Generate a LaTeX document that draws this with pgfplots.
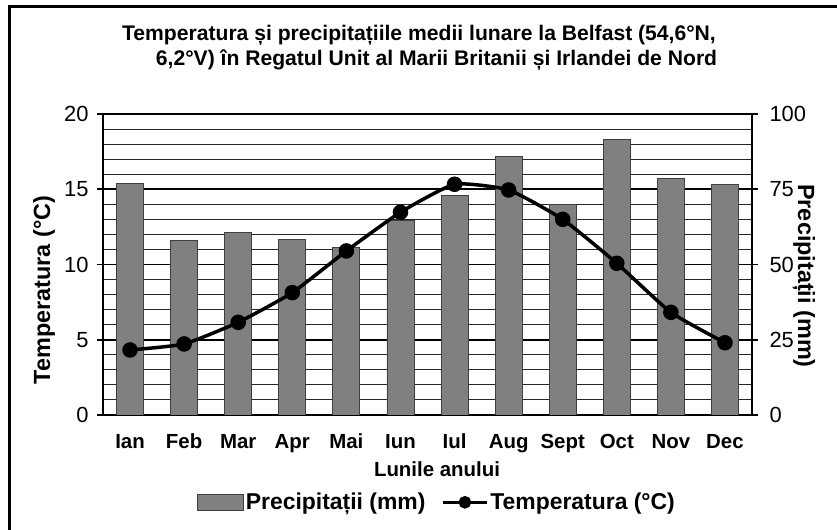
\documentclass[border=0pt]{standalone}
\usepackage{fontspec}
\setmainfont{Liberation Sans}
\usepackage{pgfplots}
\pgfplotsset{compat=1.18}
\begin{document}
\begin{tikzpicture}[x=1bp,y=1bp]
\path[use as bounding box] (0,0) rectangle (837,530);
\draw[line width=3bp] (9.5,-10) -- (9.5,523) -- (850,523);
% precipitation axis (right), bars and grid
\begin{axis}[at={(103bp,115bp)}, anchor=south west, scale only axis,
  width=649bp, height=301bp,
  xmin=-0.5, xmax=11.5, ymin=0, ymax=100,
  axis y line*=right, axis x line*=bottom,
  axis line style={black, line width=1.6bp},
  ytick={0,25,...,100}, minor y tick num=4,
  ymajorgrids, yminorgrids,
  major grid style={black, line width=1.6bp},
  minor grid style={black!85, line width=0.9bp},
  tick align=outside, major tick length=6bp, minor tick length=0bp,
  ytick style={black, line width=1.6bp},
  xtick={0,...,11},
  xticklabels={Ian,Feb,Mar,Apr,Mai,Iun,Iul,Aug,Sept,Oct,Nov,Dec},
  xtick style={draw=none},
  xticklabel style={font=\bfseries\fontsize{20.5}{23}\selectfont, text height=15bp, text depth=0bp, yshift=-9bp},
  yticklabel style={font=\fontsize{22}{24}\selectfont, xshift=8bp},
  /pgf/number format/assume math mode=true,
]
\addplot[ybar, bar width=27bp, fill=black!50, draw=black!75, line width=0.8bp] coordinates {
(0,77.0) (1,57.9) (2,60.7) (3,58.4) (4,55.6) (5,64.6)
(6,72.9) (7,85.8) (8,70.0) (9,91.6) (10,78.6) (11,76.6)};
\end{axis}
% temperature axis (left), line
\begin{axis}[at={(103bp,115bp)}, anchor=south west, scale only axis,
  width=649bp, height=301bp,
  xmin=-0.5, xmax=11.5, ymin=0, ymax=20,
  axis y line*=left, axis x line=none,
  axis line style={black, line width=1.6bp},
  ytick={0,5,...,20},
  tick align=outside, major tick length=6bp,
  ytick style={black, line width=1.6bp},
  yticklabel style={font=\fontsize{22}{24}\selectfont, xshift=-5bp},
  /pgf/number format/assume math mode=true,
  legend style={at={(0.5146,-0.29)}, anchor=center, draw=none, fill=none,
    font=\bfseries\fontsize{23}{26}\selectfont, inner sep=0pt,
    /tikz/every even column/.append style={column sep=14bp}},
  legend columns=2,
]
\addlegendimage{legend image code/.code={\draw[fill=black!50,draw=black!75,line width=0.8bp] (0bp,-8bp) rectangle (46bp,8bp);}}
\addlegendentry{Precipitații (mm)}
\addplot[black, line width=3.5bp, smooth, tension=0.3, mark=*, mark size=6bp,
  legend image code/.code={\draw[black, line width=3bp] (0bp,0bp) -- (44bp,0bp); \fill[black] (22bp,0bp) circle (4.5bp);}]
coordinates {
(0,4.32) (1,4.72) (2,6.16) (3,8.13) (4,10.9) (5,13.47)
(6,15.33) (7,14.95) (8,13.0) (9,10.08) (10,6.82) (11,4.8)};
\addlegendentry{Temperatura (°C)}
\end{axis}
\node[font=\bfseries\fontsize{21.2}{25}\selectfont, anchor=base] at (419,489)
 {Temperatura și precipitațiile medii lunare la Belfast (54,6°N,};
\node[font=\bfseries\fontsize{21.2}{25}\selectfont, anchor=base] at (436.5,464)
 {6,2°V) în Regatul Unit al Marii Britanii și Irlandei de Nord};
\node[font=\bfseries\fontsize{23.5}{26}\selectfont, rotate=90] at (44,240) {Temperatura (°C)};
\node[font=\bfseries\fontsize{23.5}{26}\selectfont, rotate=-90] at (804,254) {Precipitații (mm)};
\node[font=\bfseries\fontsize{20.5}{22}\selectfont] at (437,61) {Lunile anului};
\end{tikzpicture}
\end{document}
